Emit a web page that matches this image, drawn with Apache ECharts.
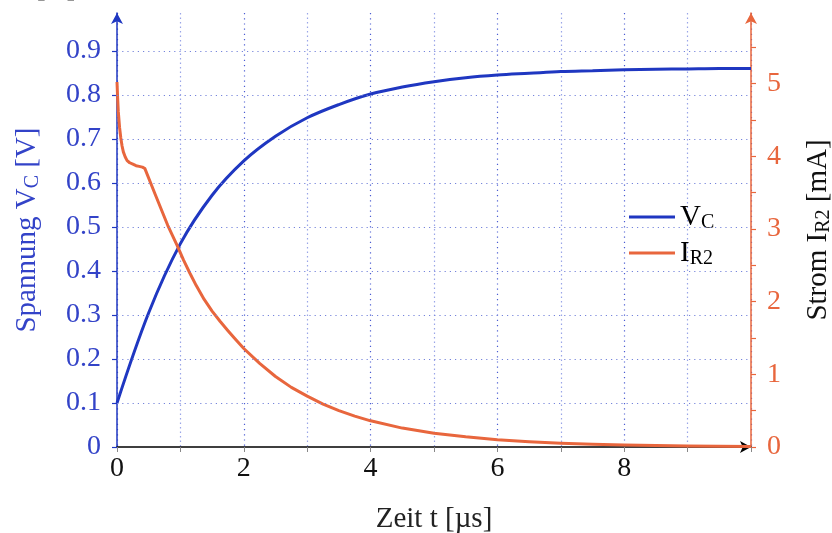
<!DOCTYPE html>
<html>
<head>
<meta charset="utf-8">
<script src="https://cdn.jsdelivr.net/npm/echarts@6/dist/echarts.min.js"></script>
<style>html,body{margin:0;padding:0;background:#fff}#c{width:832px;height:533px}</style>
</head>
<body>
<div id="c"></div>
<script>
// ---- data ----
const tV = [0,0.5,1,1.5,2,2.5,3,3.5,4,4.5,5,5.5,6,6.5,7,7.5,8,8.5,9,9.5,10];
const vC = [0.100,0.305,0.462,0.572,0.650,0.706,0.748,0.778,0.802,0.818,0.830,0.839,0.845,0.849,0.853,0.855,0.857,0.858,0.859,0.860,0.860];
const tI = [0,0.01,0.02,0.04,0.06,0.08,0.1,0.13,0.16,0.2,0.25,0.3,0.35,0.4,0.44,0.6,0.8,0.95,1.05,1.15,1.25,1.375,1.5,1.625,1.75,1.875,2,2.25,2.5,2.75,3,3.25,3.5,3.75,4,4.5,5,5.5,6,6.5,7,7.5,8,9,10];
const iR2 = [5.02,4.80,4.62,4.40,4.25,4.14,4.06,3.99,3.94,3.91,3.89,3.87,3.86,3.85,3.83,3.48,3.05,2.77,2.57,2.39,2.22,2.03,1.87,1.73,1.60,1.475,1.355,1.15,0.97,0.82,0.70,0.59,0.50,0.425,0.36,0.26,0.19,0.14,0.10,0.072,0.052,0.038,0.027,0.014,0.007];
const gridY = [0.1,0.2,0.3,0.4,0.5,0.6,0.7,0.8,0.9];
const xTickLabels = [0,2,4,6,8];
const leftTickLabels = [0,0.1,0.2,0.3,0.4,0.5,0.6,0.7,0.8,0.9];
const rightTickLabels = [0,1,2,3,4,5];

const F = 'Liberation Serif';
const BLUE = '#1f37c1', BLUE_T = '#3343c8', ORANGE = '#e8663d';
const GRIDH = '#7584db', GRIDV = '#4b5cd2', GRIDV2 = '#9aa5e8';
const near = (v, arr) => arr.some(a => Math.abs(a - v) < 1e-6);
const sub = {fontSize: 20, fontFamily: F, padding: [12, 0, 0, 0]};

const chart = echarts.init(document.getElementById('c'), null, {renderer: 'canvas'});
chart.setOption({
  animation: false,
  backgroundColor: '#fff',
  textStyle: {fontFamily: F},
  grid: {left: 117, right: 81, top: 13, bottom: 86, outerBoundsMode: 'none', containLabel: false},
  graphic: [{type: 'text', left: 36, top: -26, style: {text: '[V]', fontFamily: F, fontSize: 29, fill: '#333'}}],
  legend: {
    orient: 'vertical', left: 624, top: 197, itemGap: 5,
    icon: 'rect', itemWidth: 46, itemHeight: 3,
    data: ['VC', 'IR2'],
    formatter: n => n === 'VC' ? '{m|V}{s|C}' : '{m|I}{s|R2}',
    textStyle: {color: '#000', lineHeight: 30, rich: {m: {fontSize: 29, fontFamily: F, color: '#000'}, s: Object.assign({color: '#000'}, sub)}}
  },
  xAxis: {
    type: 'value', min: 0, max: 10, interval: 2,
    name: 'Zeit t [µs]', nameLocation: 'middle', nameGap: 58,
    nameTextStyle: {fontSize: 29, fontFamily: F, color: '#222'},
    axisLine: {show: true, onZero: false, lineStyle: {color: '#000', width: 1.5}, symbol: ['none', 'arrow'], symbolSize: [9, 11]},
    axisTick: {show: true, length: 5, lineStyle: {color: '#888', width: 1}},
    minorTick: {show: true, splitNumber: 2, length: 5, lineStyle: {color: '#888', width: 1}},
    axisLabel: {fontSize: 28, fontFamily: F, color: '#111', margin: 8, formatter: v => near(v, xTickLabels) ? String(v) : ''},
    splitLine: {show: true, lineStyle: {color: GRIDV, type: [1.2, 4], width: 1.2}},
    minorSplitLine: {show: true, lineStyle: {color: GRIDV2, type: [1.5, 3], width: 1.2}}
  },
  yAxis: [{
    type: 'value', min: 0, max: 0.986, interval: 0.1, position: 'left',
    name: '{a|Spannung V}{b|C}{a| [V]}', nameLocation: 'middle', nameGap: 74, nameRotate: 90,
    nameTextStyle: {rich: {a: {fontSize: 29, fontFamily: F, color: BLUE_T}, b: Object.assign({color: BLUE_T}, sub)}},
    axisLine: {show: true, onZero: false, lineStyle: {color: BLUE, width: 1.5}, symbol: ['none', 'arrow'], symbolSize: [9, 11]},
    axisTick: {show: true, length: 5, lineStyle: {color: BLUE, width: 1.2}},
    axisLabel: {fontSize: 28, fontFamily: F, color: BLUE_T, margin: 16, showMaxLabel: false,
      formatter: v => near(v, leftTickLabels) ? (v === 0 ? '0' : v.toFixed(1)) : ''},
    splitLine: {show: false}
  }, {
    type: 'value', min: 0, max: 5.97, interval: 0.5, position: 'right',
    name: '{a|Strom I}{b|R2}{a| [mA]}', nameLocation: 'middle', nameGap: 51, nameRotate: 90,
    nameTextStyle: {rich: {a: {fontSize: 29, fontFamily: F, color: '#111'}, b: Object.assign({color: '#111'}, sub)}},
    axisLine: {show: true, onZero: false, lineStyle: {color: ORANGE, width: 1.5}, symbol: ['none', 'arrow'], symbolSize: [9, 11]},
    axisTick: {show: true, length: 5, lineStyle: {color: ORANGE, width: 1.2}},
    axisLabel: {fontSize: 28, fontFamily: F, color: ORANGE, margin: 16, showMaxLabel: false,
      formatter: v => near(v, rightTickLabels) ? String(v) : ''},
    splitLine: {show: false}
  }],
  series: [{
    name: 'VC', type: 'line', yAxisIndex: 0,
    data: tV.map((t, i) => [t, vC[i]]),
    showSymbol: false, smooth: 0.35,
    lineStyle: {color: BLUE, width: 3}, itemStyle: {color: BLUE},
    markLine: {silent: true, symbol: 'none', label: {show: false},
      lineStyle: {color: GRIDH, type: [1.2, 4], width: 1.2},
      data: gridY.map(y => ({yAxis: y}))}
  }, {
    name: 'IR2', type: 'line', yAxisIndex: 1,
    data: tI.map((t, i) => [t, iR2[i]]),
    showSymbol: false, smooth: false,
    lineStyle: {color: ORANGE, width: 3, join: 'round'}, itemStyle: {color: ORANGE}
  }]
});
</script>
</body>
</html>
